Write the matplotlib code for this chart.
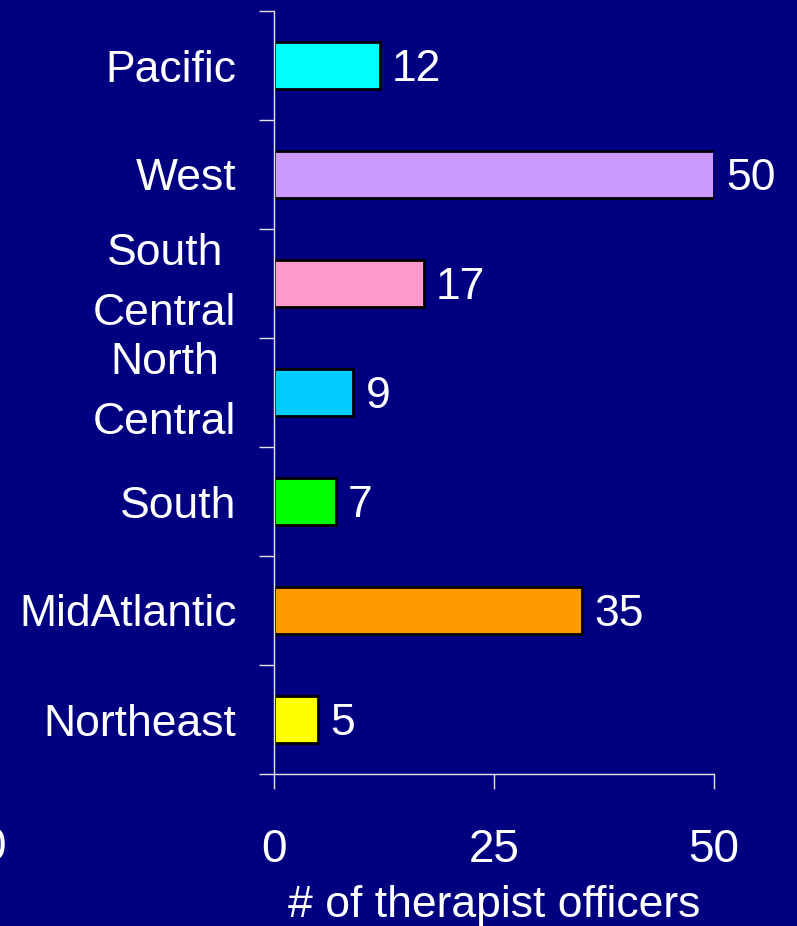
import matplotlib
matplotlib.use("Agg")
import matplotlib.pyplot as plt
import numpy as np

plt.rcParams['font.family'] = ['Liberation Sans', 'DejaVu Sans']

regions = ["Northeast", "MidAtlantic", "South", "North\nCentral",
           "South\nCentral", "West", "Pacific"]
officers = [5, 35, 7, 9, 17, 50, 12]
colors = ["#FFFF00", "#FF9900", "#00FF00", "#00CCFF",
          "#FF99CC", "#CC99FF", "#00FFFF"]
xticks = [0, 25, 50]

BG = "#000080"
LINE = "#E6E6E6"

fig = plt.figure(figsize=(7.97, 9.26), dpi=100, facecolor=BG)
ax = fig.add_axes([274/797, 1-774/926, 440/797, 763/926], facecolor=BG)

pos = np.arange(len(regions))
bars = ax.barh(pos, officers, height=0.43, color=colors,
               edgecolor="black", linewidth=2)

for b, v in zip(bars, officers):
    ax.annotate(str(v), (b.get_width(), b.get_y() + b.get_height()/2),
                xytext=(9, -3), textcoords="offset points",
                ha="left", va="center", color="white", fontsize=32)

ax.set_xlim(0, 50)
ax.set_ylim(-0.5, len(regions) - 0.5)

# category labels on minor ticks, boundary ticks on major
ax.set_yticks(np.arange(len(regions) + 1) - 0.5)
ax.set_yticklabels([])
ax.set_yticks(pos, minor=True)
ax.set_yticklabels(regions, minor=True, fontsize=32, color="white",
                   linespacing=1.6, multialignment="center")
ax.tick_params(axis="y", which="minor", length=0, pad=27)
ax.tick_params(axis="y", which="major", length=11, width=1, color=LINE,
               direction="out")
for t in ax.get_yticklabels(minor=True):
    if "\n" in t.get_text():
        t.set_va("center")
    else:
        t.set_va("center_baseline")

ax.set_xticks(xticks)
ax.set_xticklabels([str(t) for t in xticks])
ax.tick_params(axis="x", length=11, width=1, color=LINE, direction="out",
               pad=28, labelsize=33, labelcolor="white")
ax.set_xlabel("# of therapist officers", fontsize=32, color="white",
              labelpad=9)

for s in ["top", "right"]:
    ax.spines[s].set_visible(False)
for s in ["left", "bottom"]:
    ax.spines[s].set_color(LINE)
    ax.spines[s].set_linewidth(1)

# stray tick label from neighbouring chart at left edge
fig.text(6/797, 1-848/926, "0", ha="right", va="center", fontsize=33,
         color="white")

fig.savefig("out.png", facecolor=BG)
